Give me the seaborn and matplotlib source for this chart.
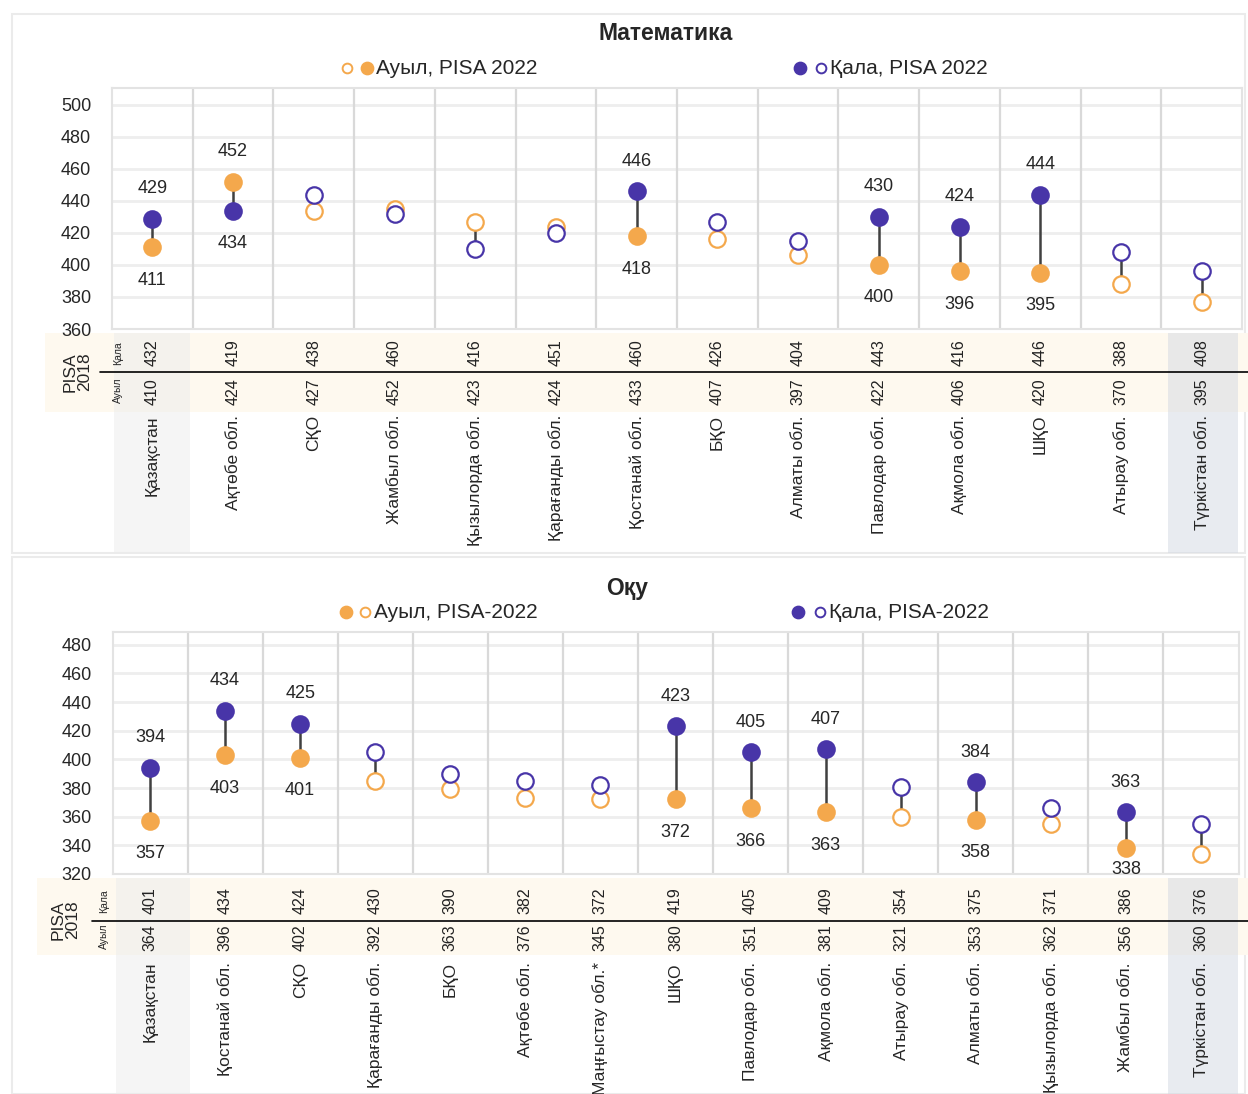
import numpy as np
import pandas as pd
import seaborn as sns
import matplotlib
matplotlib.use("Agg")
import matplotlib.pyplot as plt
import matplotlib.transforms as mtrans
from matplotlib.patches import Rectangle
from matplotlib.lines import Line2D

# ---- data: Mathematics ----
math_cats = ['Қазақстан', 'Ақтөбе обл.', 'СҚО', 'Жамбыл обл.', 'Қызылорда обл.',
             'Қарағанды обл.', 'Қостанай обл.', 'БҚО', 'Алматы обл.', 'Павлодар обл.',
             'Ақмола обл.', 'ШҚО', 'Атырау обл.', 'Түркістан обл.']
math_kala = [429, 434, 444, 432, 410, 420, 446, 427, 415, 430, 424, 444, 408, 396]
math_auyl = [411, 452, 434, 435, 427, 424, 418, 416, 406, 400, 396, 395, 388, 377]
math_sig = [1, 1, 0, 0, 0, 0, 1, 0, 0, 1, 1, 1, 0, 0]
math_kala18 = [432, 419, 438, 460, 416, 451, 460, 426, 404, 443, 416, 446, 388, 408]
math_auyl18 = [410, 424, 427, 452, 423, 424, 433, 407, 397, 422, 406, 420, 370, 395]

# ---- data: Reading ----
read_cats = ['Қазақстан', 'Қостанай обл.', 'СҚО', 'Қарағанды обл.', 'БҚО', 'Ақтөбе обл.',
             'Маңғыстау обл.*', 'ШҚО', 'Павлодар обл.', 'Ақмола обл.', 'Атырау обл.',
             'Алматы обл.', 'Қызылорда обл.', 'Жамбыл обл.', 'Түркістан обл.']
read_kala = [394, 434, 425, 405, 390, 385, 382, 423, 405, 407, 381, 384, 366, 363, 355]
read_auyl = [357, 403, 401, 385, 379, 373, 372, 372, 366, 363, 360, 358, 355, 338, 334]
read_sig = [1, 1, 1, 0, 0, 0, 0, 1, 1, 1, 0, 1, 0, 1, 0]
read_kala18 = [401, 434, 424, 430, 390, 382, 372, 419, 405, 409, 354, 375, 371, 386, 376]
read_auyl18 = [364, 396, 402, 392, 363, 376, 345, 380, 351, 381, 321, 353, 362, 356, 360]

PURPLE = '#4835a8'
ORANGE = '#f4a84c'

sns.set_theme(style='white')
plt.rcParams['font.family'] = ['Liberation Sans', 'DejaVu Sans']

W, H = 1248, 1094
fig = plt.figure(figsize=(W / 100, H / 100), dpi=100)


def fig_box(x0, y0, x1, y1):
    return [x0 / W, 1 - y1 / H, (x1 - x0) / W, (y1 - y0) / H]


def fig_rect(x0, y0, x1, y1, **kw):
    fig.add_artist(Rectangle((x0 / W, 1 - y1 / H), (x1 - x0) / W, (y1 - y0) / H,
                             transform=fig.transFigure, **kw))


def marker(x, y, face, edge, ms):
    fig.add_artist(Line2D([x / W], [1 - y / H], marker='o', ms=ms, mfc=face, mec=edge,
                          mew=1.4, ls='', transform=fig.transFigure))


def draw_panel(cats, kala, auyl, sig, kala18, auyl18, g):
    # panel frame, table band, highlighted columns
    fig_rect(*g['frame'], fill=False, ec='#ebebeb', lw=1.5)
    fig_rect(*g['band'], color='#fef9ef', lw=0)
    fig_rect(*g['shade_kz'], color='#ececec', alpha=0.5, lw=0)
    fig_rect(*g['shade_tk'], color='#d3d9e3', alpha=0.5, lw=0)

    ax = fig.add_axes(fig_box(*g['box']))
    ax.set_zorder(3)
    n = len(cats)
    df = pd.DataFrame({'pos': np.arange(n), 'kala': kala, 'auyl': auyl, 'sig': sig})
    ylo, yhi = g['ylim']

    ax.vlines(np.arange(n - 1) + 0.5, ylo, yhi, color='#d9d9d9', lw=1.6, zorder=1)
    ax.vlines(df.pos, df.auyl, df.kala, color='#404040', lw=1.8, zorder=2)
    for col, c in [('auyl', ORANGE), ('kala', PURPLE)]:
        for flag, sub in df.groupby('sig'):
            sns.scatterplot(data=sub, x='pos', y=col, color=c if flag else 'white',
                            edgecolor=c, linewidth=1.6, s=140, ax=ax, zorder=3, legend=False)

    ax.set_xlim(-0.5, n - 0.5)
    ax.set_ylim(ylo, yhi)
    ax.set_yticks(g['yticks'])
    ax.set_xticks([])
    ax.set_xlabel('')
    ax.set_ylabel('')
    ax.yaxis.grid(True, color='#eeeeee', lw=2)
    ax.set_axisbelow(True)
    ax.tick_params(axis='y', length=0, pad=15, labelsize=13)
    for s in ax.spines.values():
        s.set_color('#e3e3e3')
        s.set_linewidth(1.5)

    # value labels for significant gaps
    ppu = (g['box'][3] - g['box'][1]) / (yhi - ylo)
    for i in range(n):
        if not sig[i]:
            continue
        hi, lo = max(kala[i], auyl[i]), min(kala[i], auyl[i])
        ax.text(i, hi + 30 / ppu, str(hi), ha='center', va='center', fontsize=13)
        ax.text(i, max(lo - 33 / ppu, ylo + 4 / ppu), str(lo), ha='center', va='center',
                fontsize=13)

    # PISA 2018 table and category labels
    tr = mtrans.blended_transform_factory(ax.transData, fig.transFigure)
    for i in range(n):
        ax.text(i, 1 - g['kala_y'] / H, str(kala18[i]), rotation=90, ha='center',
                va='center', fontsize=11.5, color='#222222', transform=tr)
        ax.text(i, 1 - g['auyl_y'] / H, str(auyl18[i]), rotation=90, ha='center',
                va='center', fontsize=11.5, color='#222222', transform=tr)
        ax.text(i, 1 - g['cat_y'] / H, cats[i], rotation=90, ha='center', va='top',
                fontsize=12.5, transform=tr)

    fig.add_artist(Line2D([g['line_x'] / W, 1], [1 - g['line_y'] / H] * 2, color='black',
                          lw=1.2, transform=fig.transFigure))
    fig.text(g['pisa'][0] / W, 1 - g['pisa'][1] / H, 'PISA\n2018', rotation=90,
             ha='center', va='center', fontsize=12.5, linespacing=0.95)
    fig.text(g['small_x'] / W, 1 - g['kala_y'] / H, 'Қала', rotation=90, ha='center',
             va='center', fontsize=7.5)
    fig.text(g['small_x'] / W, 1 - (g['auyl_y'] - 2) / H, 'Ауыл', rotation=90, ha='center',
             va='center', fontsize=7.5)

    # title and legend
    fig.text(g['title'][0] / W, 1 - g['title'][1] / H, g['title'][2], ha='center',
             va='center', fontsize=16.5, weight='bold')
    ly = g['leg_y']
    for (xm1, f1), (xm2, f2), xt, c, label in g['legend']:
        marker(xm1, ly, c if f1 else 'white', c, 8.5 if f1 else 7)
        marker(xm2, ly, c if f2 else 'white', c, 8.5 if f2 else 7)
        fig.text(xt / W, 1 - ly / H, label, ha='left', va='center', fontsize=15)
    return ax


math_geom = dict(
    frame=(12, 14, 1245, 553), band=(45, 333, 1248, 412),
    shade_kz=(114, 333, 190, 553), shade_tk=(1168, 333, 1238, 553),
    box=(112, 88, 1242, 329), ylim=(360, 510.6), yticks=np.arange(360, 501, 20),
    kala_y=353, auyl_y=392, cat_y=415, line_x=100, line_y=372,
    pisa=(77, 372), small_x=118, title=(666, 34, 'Математика'), leg_y=68,
    legend=[((347, False), (367, True), 376, ORANGE, 'Ауыл, PISA 2022'),
            ((800, True), (821, False), 830, PURPLE, 'Қала, PISA 2022')])

read_geom = dict(
    frame=(12, 557, 1245, 1094), band=(37, 878, 1248, 955),
    shade_kz=(116, 878, 190, 1094), shade_tk=(1168, 878, 1238, 1094),
    box=(112.5, 632, 1238.5, 874), ylim=(320, 488.9), yticks=np.arange(320, 481, 20),
    kala_y=901, auyl_y=938, cat_y=962, line_x=92, line_y=921,
    pisa=(65, 920), small_x=104, title=(627, 589, 'Оқу'), leg_y=612,
    legend=[((346, True), (365, False), 374, ORANGE, 'Ауыл, PISA-2022'),
            ((798, True), (820, False), 829, PURPLE, 'Қала, PISA-2022')])

draw_panel(math_cats, math_kala, math_auyl, math_sig, math_kala18, math_auyl18, math_geom)
draw_panel(read_cats, read_kala, read_auyl, read_sig, read_kala18, read_auyl18, read_geom)

fig.savefig('out.png', dpi=100, facecolor='white')
